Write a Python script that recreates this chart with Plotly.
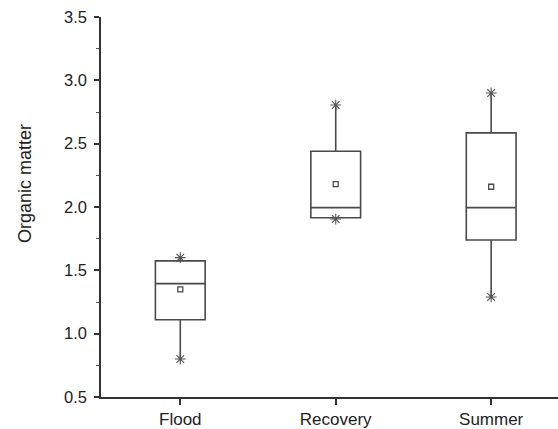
import plotly.graph_objects as go

categories = ["Flood", "Recovery", "Summer"]
q1 = [1.11, 1.915, 1.74]
median = [1.395, 1.995, 1.995]
q3 = [1.575, 2.44, 2.585]
lower = [0.80, 1.905, 1.29]
upper = [1.60, 2.805, 2.90]
mean = [1.35, 2.18, 2.16]
y_ticks = [0.5, 1.0, 1.5, 2.0, 2.5, 3.0, 3.5]

line_col = "#4a4a4a"
fig = go.Figure()
fig.add_trace(go.Box(
    x=categories, q1=q1, median=median, q3=q3,
    lowerfence=lower, upperfence=upper,
    width=0.32, whiskerwidth=0,
    fillcolor="rgba(255,255,255,0)",
    line=dict(color=line_col, width=1.6),
    boxpoints=False, showlegend=False, hoverinfo="skip",
))
fig.add_trace(go.Scatter(
    x=categories, y=mean, mode="markers", showlegend=False,
    marker=dict(symbol="square-open", size=5, color=line_col, line=dict(width=1.3)),
))
fig.add_trace(go.Scatter(
    x=categories + categories, y=lower + upper, mode="markers", showlegend=False,
    marker=dict(symbol="asterisk-open", size=9, color="#555555", line=dict(width=1.1, color="#555555")),
))

font = "Liberation Sans, Arial, sans-serif"
fig.update_layout(
    width=558, height=429,
    margin=dict(l=101, r=0, t=17, b=32),
    paper_bgcolor="white", plot_bgcolor="white",
    font=dict(family=font, size=16, color="#222222"),
    xaxis=dict(
        type="category", range=[-0.51, 2.43],
        showline=True, linecolor="#333333", linewidth=1.6,
        ticks="outside", ticklen=6, tickwidth=1.5, tickcolor="#333333",
        showgrid=False, zeroline=False,
        tickfont=dict(size=17, family=font, color="#222222"),
        ticklabelstandoff=0,
    ),
    yaxis=dict(
        range=[0.5, 3.5], tickvals=y_ticks, ticktext=[f"{v:.1f}" for v in y_ticks],
        showline=True, linecolor="#333333", linewidth=1.6,
        ticks="outside", ticklen=5, tickwidth=1.5, tickcolor="#333333",
        showgrid=False, zeroline=False,
        tickfont=dict(size=16.5, family=font, color="#222222"),
        ticklabelstandoff=4,
        minor=dict(dtick=0.25, tick0=0.5, ticks="outside", ticklen=3, tickwidth=1, tickcolor="#555555", showgrid=False),
    ),
    annotations=[dict(
        text="Organic matter", textangle=-90, showarrow=False,
        xref="paper", yref="paper", x=-(101 - 25) / 457, y=(397 - 184) / 380,
        xanchor="center", yanchor="middle",
        font=dict(size=18, family=font, color="#222222"),
    )],
)
fig.write_html("out.html", config={"displayModeBar": False},
               post_script="document.body.style.margin='0';document.body.style.padding='0';")
